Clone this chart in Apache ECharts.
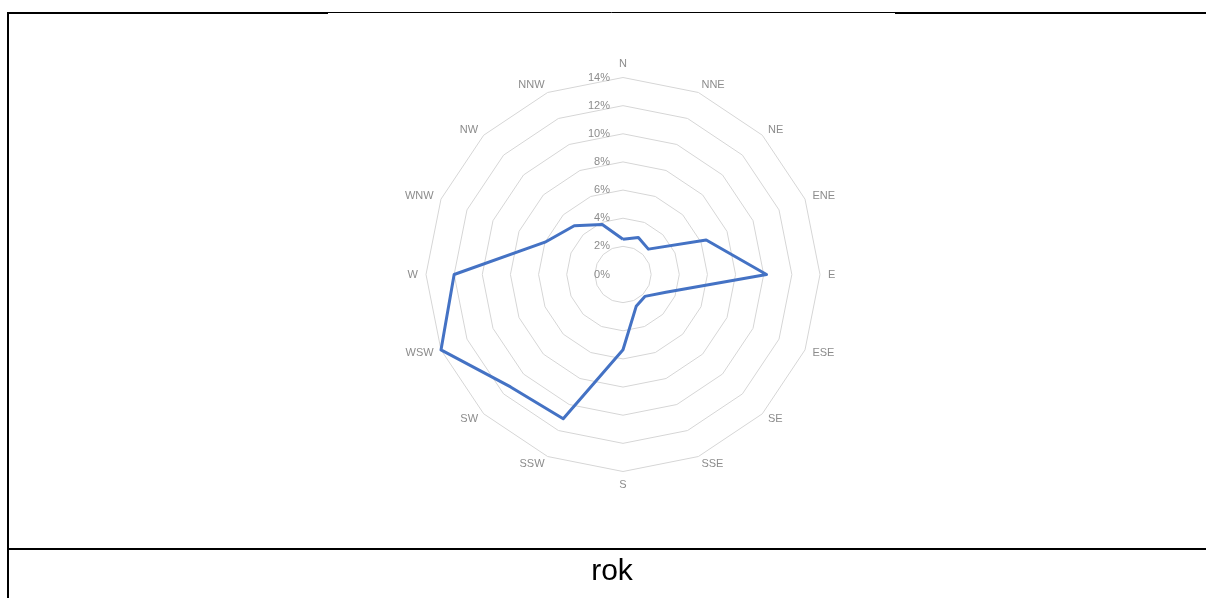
<!DOCTYPE html>
<html>
<head>
<meta charset="utf-8">
<style>
  html, body { margin: 0; padding: 0; background: #fff; }
  #chart { width: 1206px; height: 598px; }
</style>
<script src="https://cdn.jsdelivr.net/npm/echarts@6/dist/echarts.min.js"></script>
</head>
<body>
<div id="chart"></div>
<script>
// Wind directions, clockwise from north
const directions = ['N', 'NNE', 'NE', 'ENE', 'E', 'ESE', 'SE', 'SSE',
                    'S', 'SSW', 'SW', 'WSW', 'W', 'WNW', 'NW', 'NNW'];
// Share of the year for each direction (%)
const frequency = [2.5, 2.85, 2.55, 6.4, 10.2, 3.3, 2.2, 2.45,
                   5.35, 11.1, 11.3, 14.0, 12.0, 6.0, 4.9, 3.85];
// Radial scale (%)
const scaleMax = 14;
const scaleStep = 2;
const caption = 'rok';

// ECharts lays radar indicators out counter-clockwise, so keep N first
// and walk the rest backwards to get a clockwise compass.
const order = [0].concat(directions.map((_, i) => i).slice(1).reverse());

const chart = echarts.init(document.getElementById('chart'));

const indicator = order.map((idx, k) => {
  const ind = { name: directions[idx], max: scaleMax, min: 0 };
  if (k === 0) {
    // only the north spoke carries the percentage labels
    ind.axisLabel = {
      show: true,
      formatter: v => v + '%',
      color: '#8c8c8c',
      fontSize: 11,
      fontFamily: 'Liberation Sans, Arial, sans-serif',
      align: 'right',
      margin: 13
    };
  }
  return ind;
});

chart.setOption({
  animation: false,
  radar: {
    center: [623, 274.5],
    radius: 197,
    startAngle: 90,
    shape: 'polygon',
    splitNumber: scaleMax / scaleStep,
    indicator: indicator,
    nameGap: 8,
    axisName: {
      color: '#8c8c8c',
      fontSize: 11,
      fontFamily: 'Liberation Sans, Arial, sans-serif'
    },
    axisLine: { show: false },
    axisTick: { show: false },
    axisLabel: { show: false },
    splitArea: { show: false },
    splitLine: { lineStyle: { color: '#d6d6d6', width: 1 } }
  },
  series: [{
    type: 'radar',
    symbol: 'none',
    lineStyle: { color: '#4472c4', width: 3 },
    data: [{ value: order.map(idx => frequency[idx]) }]
  }],
  graphic: [
    // table frame
    { type: 'line', shape: { x1: 7, y1: 13, x2: 328, y2: 13 }, style: { stroke: '#000', lineWidth: 2 } },
    { type: 'line', shape: { x1: 328, y1: 12.5, x2: 895, y2: 12.5 }, style: { stroke: '#000', lineWidth: 1 } },
    { type: 'line', shape: { x1: 895, y1: 13, x2: 1206, y2: 13 }, style: { stroke: '#000', lineWidth: 2 } },
    { type: 'line', shape: { x1: 8, y1: 12, x2: 8, y2: 598 }, style: { stroke: '#000', lineWidth: 2 } },
    { type: 'line', shape: { x1: 7, y1: 549, x2: 1206, y2: 549 }, style: { stroke: '#000', lineWidth: 2 } },
    {
      type: 'text',
      x: 612, y: 587,
      style: {
        text: caption,
        fill: '#000',
        font: '30px "Liberation Sans", Arial, sans-serif',
        textAlign: 'center',
        textVerticalAlign: 'bottom'
      }
    }
  ]
});
</script>
</body>
</html>
